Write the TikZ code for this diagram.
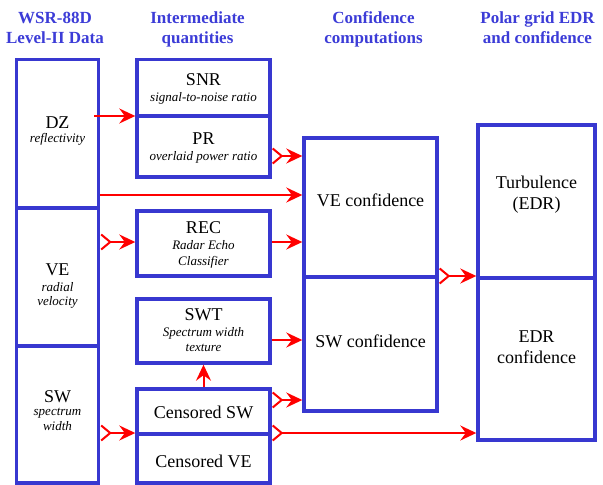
\documentclass[tikz,border=0pt]{standalone}
\usepackage{fontspec}
\setmainfont{Liberation Serif}
\usetikzlibrary{arrows.meta}
\definecolor{bblue}{RGB}{56,56,208}
\definecolor{hblue}{RGB}{60,60,215}
\definecolor{ared}{RGB}{255,0,0}
\begin{document}
\begin{tikzpicture}[x=1pt,y=-1pt,
  box/.style={draw=bblue, line width=3.4pt, inner sep=0pt, outer sep=1.7pt, rectangle},
  hdr/.style={font=\fontsize{17}{20}\selectfont\bfseries, text=hblue, anchor=base, inner sep=0pt},
  lbl/.style={font=\fontsize{18}{21}\selectfont, anchor=base, inner sep=0pt},
  sub/.style={font=\fontsize{13}{15}\selectfont\itshape, anchor=base, inner sep=0pt},
  arr/.style={draw=ared, line width=2pt, -{Stealth[length=16pt,width=15pt,inset=5.5pt]}},
  farr/.style={draw=ared, line width=2pt, {Straight Barb[reversed,length=9pt,width=15pt]}-{Stealth[length=16pt,width=15pt,inset=5.5pt]}},
]
\useasboundingbox (0,0) rectangle (603,485);

% headers
\node[hdr] (h1a) at (55,23) {WSR-88D};
\node[hdr] (h1b) at (55,43.5) {Level-II Data};
\node[hdr] (h2a) at (197.5,23) {Intermediate};
\node[hdr] (h2b) at (197.5,43.5) {quantities};
\node[hdr] (h3a) at (373.5,23) {Confidence};
\node[hdr] (h3b) at (373.5,43.5) {computations};
\node[hdr] (h4a) at (537.5,23) {Polar grid EDR};
\node[hdr] (h4b) at (537.5,43.5) {and confidence};

% boxes
\node[box, minimum width=82pt, minimum height=148.5pt] (dz) at (57.5,133.75) {};
\node[box, minimum width=82pt, minimum height=138pt] (ve) at (57.5,277) {};
\node[box, minimum width=82pt, minimum height=137pt] (sw) at (57.5,414.5) {};
\node[box, minimum width=133pt, minimum height=56.5pt] (snr) at (203.5,87.75) {};
\node[box, minimum width=133pt, minimum height=61pt] (pr) at (203.5,146.5) {};
\node[box, minimum width=133pt, minimum height=65pt] (rec) at (203.5,243.5) {};
\node[box, minimum width=133pt, minimum height=64pt] (swt) at (203.5,331) {};
\node[box, minimum width=133pt, minimum height=45pt] (csw) at (203.5,411.5) {};
\node[box, minimum width=133pt, minimum height=49pt] (cve) at (203.5,458.5) {};
\node[box, minimum width=133pt, minimum height=139pt] (vec) at (370.5,207.5) {};
\node[box, minimum width=133pt, minimum height=134pt] (swc) at (370.5,344) {};
\node[box, minimum width=117pt, minimum height=153pt] (turb) at (536.5,201.5) {};
\node[box, minimum width=117pt, minimum height=162pt] (edrc) at (536.5,359) {};

% labels
\node[lbl] (tdz) at (57.5,128) {DZ};
\node[sub] (sdz) at (57.5,142) {reflectivity};
\node[lbl] (tve) at (57.5,275) {VE};
\node[sub] (sve1) at (57.5,291) {radial};
\node[sub] (sve2) at (57.5,305) {velocity};
\node[lbl] (tsw) at (57.5,402) {SW};
\node[sub] (ssw1) at (57.5,415) {spectrum};
\node[sub] (ssw2) at (57.5,430) {width};
\node[lbl] (tsnr) at (203.5,85) {SNR};
\node[sub] (ssnr) at (203.5,101) {signal-to-noise ratio};
\node[lbl] (tpr) at (203.5,144) {PR};
\node[sub] (spr) at (203.5,160.5) {overlaid power ratio};
\node[lbl] (trec) at (203.5,233) {REC};
\node[sub] (srec1) at (203.5,249) {Radar Echo};
\node[sub] (srec2) at (203.5,265) {Classifier};
\node[lbl] (tswt) at (203.5,320) {SWT};
\node[sub] (sswt1) at (203.5,336) {Spectrum width};
\node[sub] (sswt2) at (203.5,351) {texture};
\node[lbl] (tcsw) at (203.5,418) {Censored SW};
\node[lbl] (tcve) at (203.5,467) {Censored VE};
\node[lbl] (tvec) at (370.5,206) {VE confidence};
\node[lbl] (tswc) at (370.5,347) {SW confidence};
\node[lbl] (tturb1) at (536.5,188) {Turbulence};
\node[lbl] (tturb2) at (536.5,209) {(EDR)};
\node[lbl] (tedr1) at (536.5,342) {EDR};
\node[lbl] (tedr2) at (536.5,363) {confidence};

% connectors
\draw[arr] ([xshift=-6pt]dz.east |- 0,116) -- (snr.west |- 0,116);
\draw[farr] (pr.east |- 0,156) -- (vec.west |- 0,156);
\draw[arr] (dz.east |- 0,195) -- (vec.west |- 0,195);
\draw[farr] (ve.east |- 0,242) -- (rec.west |- 0,242);
\draw[arr] (rec.east |- 0,242) -- (vec.west |- 0,242);
\draw[arr] (swt.east |- 0,340) -- (swc.west |- 0,340);
\draw[arr] (csw.north) -- (swt.south);
\draw[farr] (csw.east |- 0,400) -- (swc.west |- 0,400);
\draw[farr] (csw.east |- 0,433) -- (edrc.west |- 0,433);
\draw[farr] (sw.east |- 0,433) -- (csw.west |- 0,433);
\draw[farr] (vec.east |- 0,276) -- (turb.west |- 0,276);
\end{tikzpicture}
\end{document}
